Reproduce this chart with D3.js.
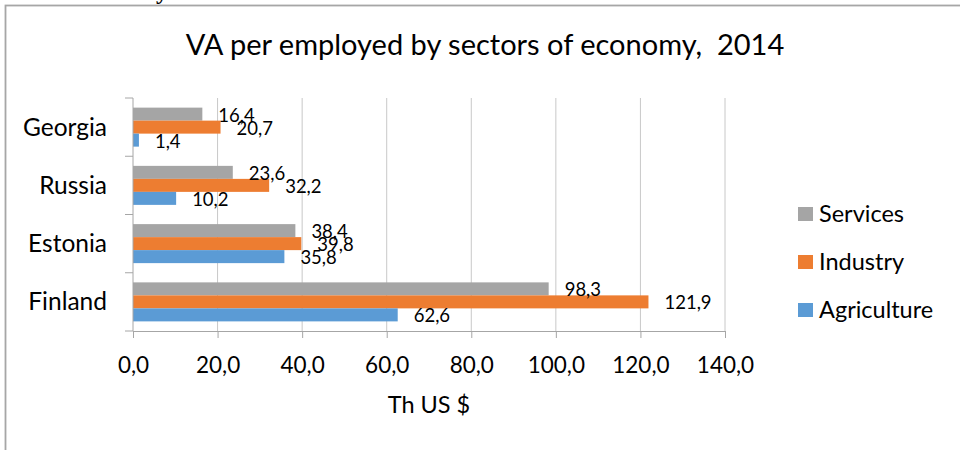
<!DOCTYPE html>
<html lang="en">
<head>
  <meta charset="UTF-8" />
  <title>VA per employed by sectors of economy, 2014</title>
  <style>
    body {
      margin: 0;
      background: white;
      font-family: "Lato", "Open Sans", sans-serif;
    }
    svg { display: block; }
    .grid line { stroke: #c8c8c8; stroke-width: 1px; }
    .axis path, .axis line { stroke: #a6a6a6; stroke-width: 1px; }
    .axis text { font-family: "Lato", sans-serif; font-size: 22.5px; fill: #000; }
    .cat { font-size: 24.5px; fill: #000; }
    .val { font-size: 18.5px; fill: #000; }
    .legend text { font-size: 23.5px; fill: #000; }
  </style>
</head>
<body>
  <svg width="960" height="450"></svg>

  <script src="https://d3js.org/d3.v7.min.js"></script>
  <script>
    const countries = ["Georgia", "Russia", "Estonia", "Finland"];
    const sectors = ["Services", "Industry", "Agriculture"];
    const services = [16.4, 23.6, 38.4, 98.3];
    const industry = [20.7, 32.2, 39.8, 121.9];
    const agriculture = [1.4, 10.2, 35.8, 62.6];
    const xTicks = [0, 20, 40, 60, 80, 100, 120, 140];
    const colors = ["#a5a5a5", "#ed7d31", "#5b9bd5"];

    const valuesBySector = [services, industry, agriculture];
    const rows = countries.map((c, i) => ({
      country: c,
      values: sectors.map((s, j) => ({ sector: s, value: valuesBySector[j][i] }))
    }));

    const svg = d3.select("svg");

    // comma as decimal mark
    const locale = d3.formatLocale({ decimal: ",", thousands: " ", grouping: [3], currency: ["", "$"] });
    const fmt = locale.format(".1f");

    // chart frame (right and bottom run off the page)
    svg.append("rect")
      .attr("x", 5.5).attr("y", 5.5)
      .attr("width", 1000).attr("height", 500)
      .attr("fill", "none")
      .attr("stroke", "#a6a6a6")
      .attr("stroke-width", 1.8);

    // bit of the cut off heading above the chart
    svg.append("text")
      .attr("x", 156).attr("y", -1)
      .attr("font-family", "Liberation Serif")
      .attr("font-weight", "bold")
      .attr("font-size", 24)
      .text("y");

    const x = d3.scaleLinear().domain([0, 140]).range([133, 725]);
    const y = d3.scaleBand().domain(countries).range([98, 331]);
    const yInner = d3.scaleBand().domain(sectors).range([0, y.bandwidth()]).paddingOuter(0.74);
    const color = d3.scaleOrdinal().domain(sectors).range(colors);

    svg.append("text")
      .attr("x", 485).attr("y", 55)
      .attr("text-anchor", "middle")
      .attr("font-size", 29)
      .attr("fill", "#000")
      .style("white-space", "pre")
      .text("VA per employed by sectors of economy,  2014");

    // vertical gridlines
    svg.append("g")
      .attr("class", "grid")
      .selectAll("line")
      .data(xTicks.slice(1))
      .join("line")
        .attr("x1", d => x(d)).attr("x2", d => x(d))
        .attr("y1", y.range()[0]).attr("y2", y.range()[1]);

    // bars
    const group = svg.append("g")
      .selectAll("g")
      .data(rows)
      .join("g")
        .attr("transform", d => `translate(0,${y(d.country)})`);

    group.selectAll("rect")
      .data(d => d.values)
      .join("rect")
        .attr("x", x(0))
        .attr("y", d => yInner(d.sector))
        .attr("width", d => x(d.value) - x(0))
        .attr("height", yInner.bandwidth())
        .attr("fill", d => color(d.sector));

    group.selectAll("text")
      .data(d => d.values)
      .join("text")
        .attr("class", "val")
        .attr("x", d => x(d.value) + 16)
        .attr("y", d => yInner(d.sector) + yInner.bandwidth() / 2 + 7.5)
        .text(d => fmt(d.value));

    // x axis
    const xAxis = svg.append("g")
      .attr("class", "axis")
      .attr("transform", `translate(0,${y.range()[1]})`)
      .call(d3.axisBottom(x).tickValues(xTicks).tickFormat(fmt).tickSizeInner(7).tickSizeOuter(0).tickPadding(19));
    xAxis.selectAll("text").attr("dy", "0.71em");

    // y axis line with ticks at category boundaries
    const yAxis = svg.append("g").attr("class", "axis");
    yAxis.append("line")
      .attr("x1", x(0)).attr("x2", x(0))
      .attr("y1", y.range()[0]).attr("y2", y.range()[1]);
    yAxis.selectAll("line.tick")
      .data(countries.map(c => y(c)).concat([y.range()[1]]))
      .join("line")
        .attr("class", "tick")
        .attr("x1", x(0) - 8).attr("x2", x(0))
        .attr("y1", d => d).attr("y2", d => d);

    svg.append("g")
      .selectAll("text")
      .data(countries)
      .join("text")
        .attr("class", "cat")
        .attr("x", 107)
        .attr("y", d => y(d) + y.bandwidth() / 2 + 8.5)
        .attr("text-anchor", "end")
        .text(d => d);

    svg.append("text")
      .attr("x", (x.range()[0] + x.range()[1]) / 2)
      .attr("y", 413)
      .attr("text-anchor", "middle")
      .attr("font-size", 23.5)
      .attr("fill", "#000")
      .text("Th US $");

    // legend
    const legend = svg.append("g")
      .attr("class", "legend")
      .selectAll("g")
      .data(sectors)
      .join("g")
        .attr("transform", (d, i) => `translate(798,${214 + i * 48})`);

    legend.append("rect")
      .attr("x", 0).attr("y", -7)
      .attr("width", 15).attr("height", 14)
      .attr("fill", d => color(d));

    legend.append("text")
      .attr("x", 21).attr("y", 8)
      .text(d => d);
  </script>
</body>
</html>
